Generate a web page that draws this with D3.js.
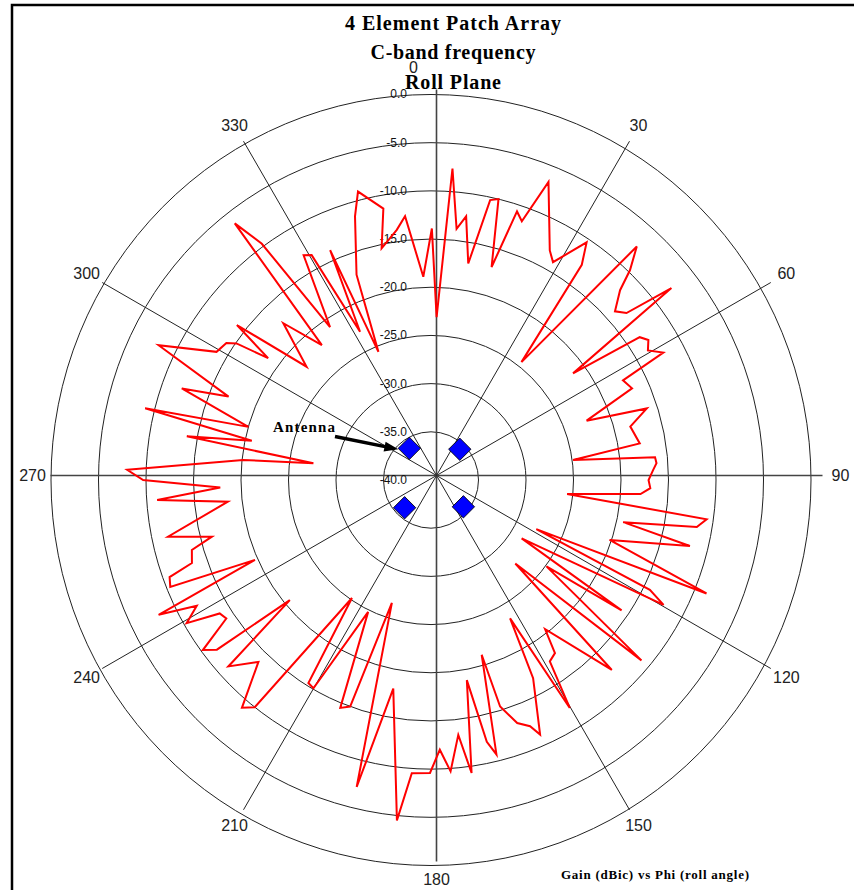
<!DOCTYPE html>
<html lang="en">
<head>
<meta charset="UTF-8">
<title>4 Element Patch Array</title>
<script src="https://d3js.org/d3.v7.min.js"></script>
<style>body{margin:0;background:#fff}</style>
</head>
<body>
<script>
const width = 854, height = 890;

const titleLines = ["4 Element Patch Array", "C-band frequency", "Roll Plane"];
const axisTitle = "Gain (dBic) vs Phi (roll angle)";
const ringValues = [0, -5, -10, -15, -20, -25, -30, -35, -40];
const spokeAngles = [0, 30, 60, 90, 120, 150, 180, 210, 240, 270, 300, 330];

// measured roll-plane pattern: phi (deg) and gain (dBic)
const phi = [0.2, 2.0, 4.0, 5.9, 7.7, 9.9, 12.1, 13.7, 16.1, 18.0, 19.6, 21.8, 27.7, 29.6,
  33.6, 35.4, 37.9, 41.8, 43.9, 45.3, 47.9, 49.9, 51.8, 53.5, 56.0, 57.6, 59.5, 61.6, 62.9,
  65.8, 69.4, 71.9, 75.2, 80.2, 82.1, 84.3, 85.8, 87.5, 90.0, 92.1, 93.8, 95.8, 98.0, 99.9,
  102.2, 104.1, 108.3, 112.1, 114.7, 116.3, 117.9, 122.4, 124.0, 126.4, 130.2, 134.3, 136.0,
  142.2, 144.0, 146.4, 148.3, 149.9, 152.4, 156.5, 157.8, 160.2, 162.8, 163.6, 166.4, 167.8,
  169.7, 172.0, 173.8, 176.1, 178.1, 180.2, 183.8, 185.8, 190.4, 193.8, 197.9, 199.9, 202.0,
  205.8, 209.8, 211.5, 214.2, 218.2, 220.1, 223.9, 227.8, 230.0, 232.0, 233.7, 236.3, 238.1,
  240.0, 242.1, 244.0, 245.9, 248.0, 249.9, 251.1, 253.9, 255.7, 258.0, 264.0, 265.9, 268.0,
  270.0, 271.9, 276.0, 278.0, 280.0, 282.2, 283.9, 286.0, 289.9, 292.1, 296.0, 300.5, 303.4,
  304.7, 306.4, 308.2, 311.9, 316.3, 320.6, 322.2, 324.0, 326.2, 330.1, 331.7, 334.1, 336.0,
  337.4, 339.8, 343.7, 345.6, 349.9, 347.8, 352.1, 354.3, 357.8];
const gain = [-13.9, -23.1, -7.6, -13.8, -12.4, -17.2, -10.3, -10.0, -17.0, -10.7, -11.5, -6.7, -13.1, -14.0,
  -10.4, -12.6, -24.5, -7.5, -9.8, -12.0, -13.9, -13.1, -7.8, -21.4, -13.5, -12.9, -13.5, -12.2, -17.3,
  -16.8, -22.5, -16.1, -18.3, -17.7, -24.9, -16.3, -16.2, -16.6, -17.1, -16.9, -17.9, -25.6, -10.7, -11.6,
  -19.3, -11.9, -20.2, -8.7, -27.8, -14.3, -12.3, -28.7, -15.8, -24.9, -11.0, -27.6, -12.6,
  -20.4, -17.8, -17.4, -12.2, -23.4, -16.8, -11.2, -12.4, -13.2, -15.4, -21.1, -10.7, -12.2,
  -18.9, -9.3, -13.4, -9.7, -12.0, -9.6, -9.5, -4.5, -18.0, -7.2, -26.6, -15.0, -14.5,
  -24.8, -15.1, -15.3, -25.2, -10.0, -9.1, -13.8, -11.2, -20.6, -11.4, -10.2, -14.1, -13.8,
  -10.3, -12.1, -8.1, -19.7, -10.4, -10.7, -13.4, -13.8, -16.2, -11.7, -18.5, -11.1, -17.8,
  -9.7, -8.0, -20.1, -27.5, -13.9, -20.7, -9.0, -20.0, -12.1, -17.0, -8.1, -13.8, -14.2,
  -15.1, -18.7, -14.0, -22.4, -17.5, -21.9, -6.3, -9.7, -20.9, -13.1, -13.5, -22.9, -13.9,
  -25.6, -17.3, -11.5, -9.1, -11.4, -15.4, -13.8, -12.5, -18.9];

// antenna elements
const antPhi = [43.5, 129.2, 224.0, 325.2];
const antGain = [-35.6, -35.6, -36.0, -36.0];

const cx = 431, cy = 480, ky = 1.0145;   // ring centre, slight vertical stretch
const sx = 436.5, sy = 475.5;            // where the spokes cross
const r = d3.scaleLinear().domain([-40, 0]).range([0, 380]);

function pos(a, g) {
    const t = a * Math.PI / 180;
    return [cx + r(g) * Math.sin(t), cy - r(g) * ky * Math.cos(t)];
}

const svg = d3.select("body").append("svg")
    .attr("width", width)
    .attr("height", height)
    .style("font-family", "'Liberation Sans', Arial, sans-serif");

// frame
svg.append("path")
    .attr("d", "M12,900V5H870")
    .attr("fill", "none")
    .attr("stroke", "#000")
    .attr("stroke-width", 2.5);

// rings
svg.append("g").selectAll("ellipse")
    .data(ringValues.filter(v => v > -40))
    .join("ellipse")
    .attr("cx", cx).attr("cy", cy)
    .attr("rx", d => r(d))
    .attr("ry", d => r(d) * ky)
    .attr("fill", "none")
    .attr("stroke", "#222")
    .attr("stroke-width", 1);

// spokes
const spokeLen = 386;
svg.append("g").selectAll("line")
    .data(spokeAngles)
    .join("line")
    .attr("x1", sx).attr("y1", sy)
    .attr("x2", d => sx + spokeLen * Math.sin(d * Math.PI / 180))
    .attr("y2", d => sy - spokeLen * Math.cos(d * Math.PI / 180))
    .attr("stroke", d => d % 90 == 0 ? "#444" : "#222")
    .attr("stroke-width", d => d % 90 == 0 ? 1.6 : 1);

// spoke labels
svg.append("g").selectAll("text")
    .data(spokeAngles)
    .join("text")
    .attr("x", d => sx + 404 * Math.sin(d * Math.PI / 180) + (d == 0 ? -23 : 0))
    .attr("y", d => sy - 404 * Math.cos(d * Math.PI / 180) + (d == 0 ? -4.5 : 0))
    .attr("text-anchor", "middle")
    .attr("dominant-baseline", "central")
    .attr("font-size", 16)
    .attr("fill", "#222")
    .text(d => d);

// ring labels
svg.append("g").selectAll("text")
    .data(ringValues)
    .join("text")
    .attr("x", 407)
    .attr("y", d => cy - r(d) * ky)
    .attr("text-anchor", "end")
    .attr("dominant-baseline", "central")
    .attr("font-size", 12)
    .attr("fill", "#111")
    .text(d => d.toFixed(1));

// pattern
const pts = phi.map((p, i) => pos(p, gain[i]));
svg.append("path")
    .attr("d", d3.line().curve(d3.curveLinearClosed)(pts))
    .attr("fill", "none")
    .attr("stroke", "#ff0000")
    .attr("stroke-width", 2)
    .attr("stroke-linejoin", "miter");

// antenna elements
svg.append("g").selectAll("path")
    .data(antPhi.map((p, i) => pos(p, antGain[i])))
    .join("path")
    .attr("d", d3.symbol(d3.symbolSquare, 250))
    .attr("transform", d => `translate(${d[0]},${d[1]}) rotate(45)`)
    .attr("fill", "#0000ff")
    .attr("stroke", "#000")
    .attr("stroke-width", 0.8);

// antenna callout
const tip = pos(antPhi[3], antGain[3]);
const tipX = tip[0] - 11, tipY = tip[1] + 1;
svg.append("text")
    .attr("x", 304).attr("y", 432)
    .attr("text-anchor", "middle")
    .attr("font-family", "'Liberation Serif', 'Times New Roman', serif")
    .attr("font-weight", "bold")
    .attr("font-size", 15)
    .attr("textLength", 62)
    .text("Antenna");
svg.append("line")
    .attr("x1", 335).attr("y1", 436.5)
    .attr("x2", tipX - 12).attr("y2", tipY - 2.5)
    .attr("stroke", "#000")
    .attr("stroke-width", 3.5);
const ang = Math.atan2(tipY - 436.5, tipX - 335);
const hl = 14, hw = 5;
svg.append("path")
    .attr("d", `M${tipX},${tipY}`
        + `L${tipX - hl * Math.cos(ang) + hw * Math.sin(ang)},${tipY - hl * Math.sin(ang) - hw * Math.cos(ang)}`
        + `L${tipX - hl * Math.cos(ang) - hw * Math.sin(ang)},${tipY - hl * Math.sin(ang) + hw * Math.cos(ang)}Z`)
    .attr("fill", "#000");

// titles
svg.append("g").selectAll("text")
    .data(titleLines)
    .join("text")
    .attr("x", 453)
    .attr("y", (d, i) => 30 + i * 29.3)
    .attr("text-anchor", "middle")
    .attr("font-family", "'Liberation Serif', 'Times New Roman', serif")
    .attr("font-weight", "bold")
    .attr("font-size", 20)
    .attr("textLength", (d, i) => [216, 165, 96][i])
    .text(d => d);

svg.append("text")
    .attr("x", 655).attr("y", 879)
    .attr("text-anchor", "middle")
    .attr("font-family", "'Liberation Serif', 'Times New Roman', serif")
    .attr("font-weight", "bold")
    .attr("font-size", 13)
    .attr("textLength", 188)
    .text(axisTitle);
</script>
</body>
</html>
